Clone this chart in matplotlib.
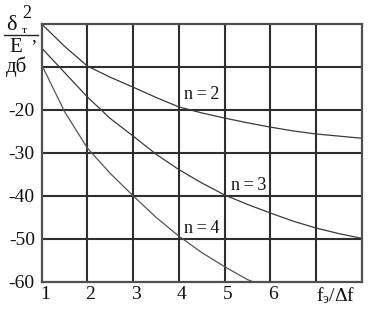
import matplotlib
matplotlib.use("Agg")
import matplotlib.pyplot as plt
from matplotlib.lines import Line2D
import matplotlib.transforms as mtransforms

plt.rcParams['font.family'] = ['Liberation Serif', 'DejaVu Serif']
plt.rcParams['mathtext.fontset'] = 'custom'
plt.rcParams['mathtext.rm'] = 'Liberation Serif'
plt.rcParams['mathtext.it'] = 'Liberation Serif'

# Data
x_n2 = [1, 1.5, 2, 2.5, 3, 3.5, 4, 4.5, 5, 5.5, 6, 6.5, 7, 7.5, 8]
y_n2 = [0, -5.2, -9.8, -12.4, -14.7, -17.1, -19.3, -20.7, -21.9, -23.0, -24.0, -24.9, -25.6, -26.1, -26.6]
x_n3 = [1, 1.5, 2, 2.5, 3, 3.5, 4, 4.5, 5, 5.5, 6, 6.5, 7, 7.5, 8]
y_n3 = [-5.6, -11.3, -17.0, -22.0, -26.1, -30.3, -33.9, -37.0, -39.8, -42.0, -44.0, -45.9, -47.5, -48.8, -49.9]
x_n4 = [1, 1.5, 2, 2.5, 3, 3.5, 4, 4.5, 5, 5.5, 5.62]
y_n4 = [-9.5, -20.4, -28.9, -34.8, -40.0, -45.0, -49.4, -53.2, -56.5, -59.5, -60.0]

series_labels = ["n\u2009=\u20092", "n\u2009=\u20093", "n\u2009=\u20094"]
label_x = [4.49, 5.52, 4.49]
label_y = [-16.5, -37.5, -47.6]

x_ticks = [1, 2, 3, 4, 5, 6]
x_tick_labels = ["1", "2", "3", "4", "5", "6"]
y_ticks = [-20, -30, -40, -50, -60]
y_tick_labels = ["-20", "-30", "-40", "-50", "-60"]

W, H = 369, 313
fig = plt.figure(figsize=(W / 100, H / 100), dpi=100)
ax = fig.add_axes([41.7 / W, 1 - 281.7 / H, 320 / W, (281.7 - 24) / H])

ax.set_xlim(1, 8)
ax.set_ylim(-60, 0)

grid_c = '#2e2e2e'
for xv in range(2, 8):
    ax.axvline(xv, color=grid_c, lw=1.5, zorder=1)
for yv in range(-50, 0, 10):
    ax.axhline(yv, color=grid_c, lw=1.5, zorder=1)
for s in ax.spines.values():
    s.set_color('#505050')
    s.set_linewidth(1.6)

line_c = '#3a3a3a'
ax.plot(x_n2, y_n2, color=line_c, lw=0.9, zorder=2)
ax.plot(x_n3, y_n3, color=line_c, lw=0.9, zorder=2)
ax.plot(x_n4, y_n4, color='#555555', lw=0.9, zorder=2, clip_on=True)

for lab, lx, ly in zip(series_labels, label_x, label_y):
    ax.text(lx, ly, lab, fontsize=13, ha='center', va='center', color='#111111', zorder=3)

ax.set_xticks(x_ticks)
ax.set_xticklabels(x_tick_labels, fontsize=14)
ax.set_yticks(y_ticks)
ax.set_yticklabels(y_tick_labels, fontsize=14)
ax.tick_params(length=0, pad=5, colors='#111111')
ax.tick_params(axis='x', pad=3)
off = mtransforms.ScaledTranslation(3 / 100, 0, fig.dpi_scale_trans)
for t in ax.get_xticklabels():
    t.set_transform(t.get_transform() + off)

# x axis label placed in tick row
ax.text(7.0, -60, r"$\mathregular{f_{э}/\Delta f}$", fontsize=14, ha='left', va='top',
        transform=ax.transData + mtransforms.ScaledTranslation(0, -4 / 100, fig.dpi_scale_trans),
        color='#111111')

# y axis label (fraction) at top-left
def fx(px):
    return px / W

def fy(py):
    return 1 - py / H

fig.text(fx(6), fy(30), "δ", fontsize=16, ha='left', va='baseline', color='#111111')
fig.text(fx(22), fy(33), "т", fontsize=8, ha='left', va='baseline', color='#111111')
fig.text(fx(22), fy(18), "2", fontsize=13, ha='left', va='baseline', color='#111111')
fig.add_artist(Line2D([fx(4), fx(38)], [fy(34.5), fy(34.5)], color='#222222', lw=1.0))
fig.text(fx(9), fy(52), "E", fontsize=15, ha='left', va='baseline', color='#111111')
fig.text(fx(30), fy(52), "\u2019", fontsize=14, ha='left', va='baseline', color='#111111')
fig.text(fx(6), fy(72), "дб", fontsize=15, ha='left', va='baseline', color='#111111')

fig.savefig("out.png", dpi=100)
